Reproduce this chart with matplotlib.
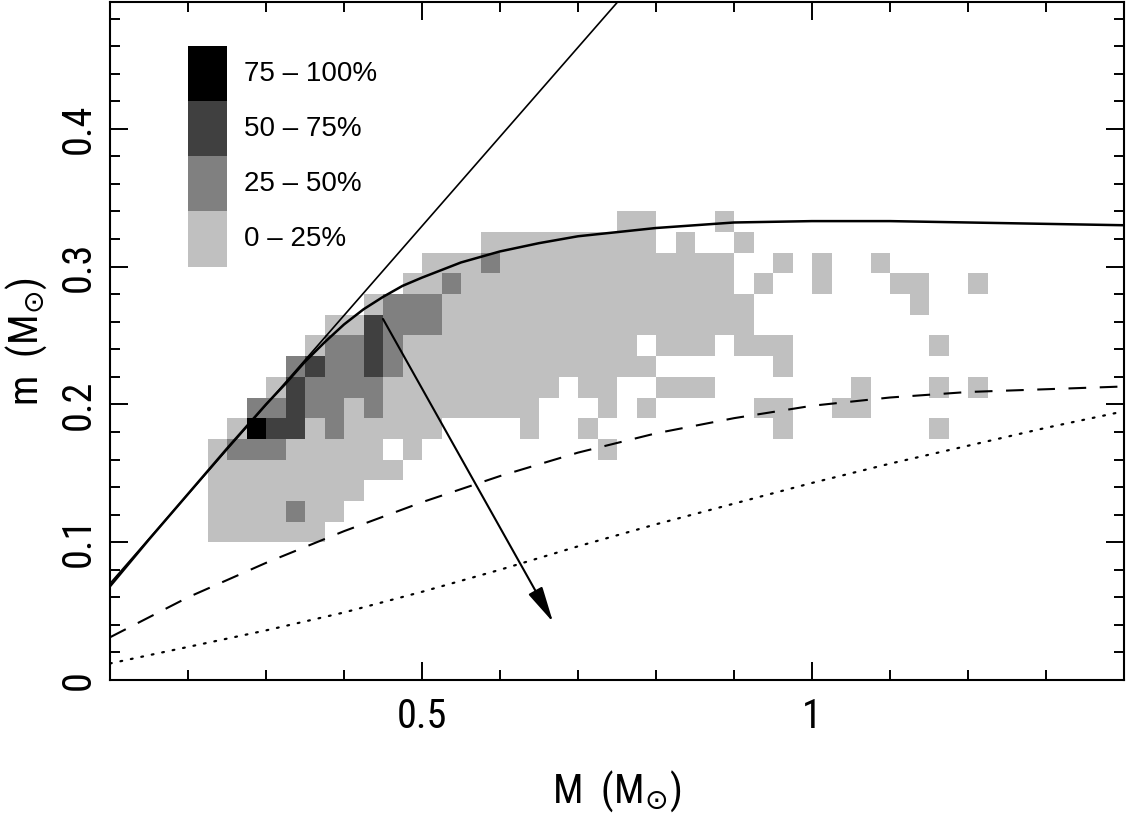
import numpy as np
import matplotlib
matplotlib.use("Agg")
import matplotlib.pyplot as plt
from matplotlib import font_manager
from matplotlib.colors import ListedColormap, BoundaryNorm
from matplotlib.ticker import MultipleLocator, FixedLocator, FixedFormatter
from matplotlib.patches import Rectangle

# ---------------- data ----------------
# occupancy grid: bin edges in M and m
M_edges = np.linspace(0.225, 1.225, 41)
m_edges = np.linspace(0.10, 0.34, 17)
# levels: 0 empty, 1: 0-25%, 2: 25-50%, 3: 50-75%, 4: 75-100%  (top row first)
grid_rows = [
    "0000000000" "0000000000" "0110001000" "0000000000",  # 0.325-0.340
    "0000000000" "0000111111" "1110100100" "0000000000",
    "0000000000" "0111211111" "1111111001" "0100100000",
    "0000000000" "1121111111" "1111111010" "0100011001",
    "0000000012" "2211111111" "1111111100" "0000001000",
    "0000001132" "2211111111" "1111111100" "0000000000",
    "0000012232" "1111111111" "1101110111" "0000000100",
    "0000232232" "1111111111" "1110000001" "0000000000",
    "0001322221" "1111111101" "1001110000" "0001000101",
    "0022322121" "1111111000" "1010000011" "0011000000",
    "0143312111" "1100001001" "0000000001" "0000000100",
    "1222111110" "1000000000" "1000000000" "0000000000",
    "1111111111" "0000000000" "0000000000" "0000000000",
    "1111111100" "0000000000" "0000000000" "0000000000",
    "1111211000" "0000000000" "0000000000" "0000000000",
    "1111110000" "0000000000" "0000000000" "0000000000",  # 0.100-0.115
]
level_colors = ["#c0c0c0", "#808080", "#404040", "#000000"]
legend_labels = ["75 \u2013 100%", "50 \u2013 75%", "25 \u2013 50%", "0 \u2013 25%"]

# straight solid line
line_M = [0.10, 0.76]
line_m = [0.070, 0.498]
# curved solid line
curve_M = [0.10, 0.15, 0.20, 0.25, 0.30, 0.325, 0.35, 0.375, 0.40, 0.425, 0.45, 0.475,
           0.50, 0.55, 0.60, 0.65, 0.70, 0.80, 0.90, 1.00, 1.10, 1.20, 1.30, 1.40]
curve_m = [0.068, 0.102, 0.135, 0.168, 0.200, 0.215, 0.231, 0.245, 0.258, 0.269, 0.278, 0.286,
           0.292, 0.303, 0.311, 0.317, 0.322, 0.328, 0.332, 0.333, 0.333, 0.332, 0.331, 0.330]
# dashed line
dash_M = [0.10, 0.20, 0.30, 0.40, 0.50, 0.60, 0.70, 0.80, 0.90, 1.00, 1.10, 1.20, 1.30, 1.40]
dash_m = [0.031, 0.060, 0.085, 0.108, 0.129, 0.148, 0.165, 0.179, 0.190, 0.199, 0.205, 0.209,
          0.211, 0.213]
# dotted line
dot_M = [0.10, 0.20, 0.30, 0.40, 0.50, 0.60, 0.70, 0.80, 0.90, 1.00, 1.10, 1.20, 1.30, 1.40]
dot_m = [0.012, 0.024, 0.036, 0.049, 0.064, 0.080, 0.097, 0.113, 0.128, 0.143, 0.157,
         0.170, 0.183, 0.195]
# arrow
arrow_start = (0.45, 0.262)
arrow_end = (0.668, 0.042)

xtick_vals = [0.5, 1.0]
xtick_labels = ["0.5", "1"]
ytick_vals = [0.0, 0.1, 0.2, 0.3, 0.4]
ytick_labels = ["0", "0.1", "0.2", "0.3", "0.4"]

# ---------------- style ----------------
ttf = font_manager.fontManager.ttflist
avail = {f.name for f in ttf}
has_dv_cond = any(f.name == "DejaVu Sans" and f.stretch == "condensed" for f in ttf)
if "Liberation Sans Narrow" in avail:
    tick_font, tick_stretch = "Liberation Sans Narrow", "normal"
elif "Roboto Condensed" in avail:
    tick_font, tick_stretch = "Roboto Condensed", "normal"
elif has_dv_cond:
    tick_font, tick_stretch = "DejaVu Sans", "condensed"
else:
    tick_font, tick_stretch = "Liberation Sans", "normal"
legend_font = "Liberation Sans" if "Liberation Sans" in avail else "DejaVu Sans"
plt.rcParams["font.family"] = [tick_font, "DejaVu Sans"]
plt.rcParams["font.stretch"] = tick_stretch
plt.rcParams["mathtext.fontset"] = "dejavusans"

fig = plt.figure(figsize=(11.26, 8.14), dpi=100)
ax = fig.add_axes([110 / 1126, 1 - 680 / 814, 1014 / 1126, 678 / 814])

grid = np.array([[int(c) for c in r] for r in grid_rows])[::-1]
grid_masked = np.ma.masked_equal(grid, 0)
cmap = ListedColormap(level_colors)
norm = BoundaryNorm([0.5, 1.5, 2.5, 3.5, 4.5], cmap.N)
ax.pcolormesh(M_edges, m_edges, grid_masked, cmap=cmap, norm=norm,
              edgecolors="none", antialiased=False, zorder=1)

ax.plot(line_M, line_m, color="k", lw=1.2, zorder=3)
ax.plot(curve_M, curve_m, color="k", lw=1.8, zorder=3)
ax.plot(dash_M, dash_m, color="k", lw=1.5, dashes=(8.5, 6.5), zorder=3)
ax.plot(dot_M, dot_m, color="k", lw=1.6, linestyle=(0, (0.8, 4.0)),
        dash_capstyle="round", zorder=3)
ax.annotate("", xy=arrow_end, xytext=arrow_start,
            arrowprops=dict(arrowstyle="-|>,head_length=1.0,head_width=0.22",
                            color="k", lw=1.5, mutation_scale=22, shrinkA=0, shrinkB=0),
            zorder=4)

# legend (drawn inside the axes)
for i, (lab, col) in enumerate(zip(legend_labels, level_colors[::-1])):
    y0 = 0.42 - 0.04 * i
    ax.add_patch(Rectangle((0.20, y0), 0.05, 0.04, facecolor=col, edgecolor="none", zorder=2))
    ax.text(0.272, y0 + 0.02, lab, ha="left", va="center", fontsize=20,
            family=[legend_font, "DejaVu Sans"], fontstretch="normal", zorder=5)

ax.set_xlim(0.1, 1.4)
ax.set_ylim(0.0, 0.492)

ax.xaxis.set_major_locator(FixedLocator(xtick_vals))
ax.xaxis.set_major_formatter(FixedFormatter(xtick_labels))
ax.xaxis.set_minor_locator(MultipleLocator(0.1))
ax.yaxis.set_major_locator(FixedLocator(ytick_vals))
ax.yaxis.set_major_formatter(FixedFormatter(ytick_labels))
ax.yaxis.set_minor_locator(MultipleLocator(0.02))

ax.tick_params(which="both", direction="in", top=True, right=True, width=1.4)
ax.tick_params(which="major", length=13, labelsize=29)
ax.tick_params(which="minor", length=7)
ax.tick_params(axis="x", which="major", pad=12)
ax.tick_params(axis="y", which="major", pad=9)
for lbl in ax.get_yticklabels():
    lbl.set_rotation(90)
    lbl.set_va("center")
for s in ax.spines.values():
    s.set_linewidth(1.5)

ax.set_xlabel(r"M  (M$_{\odot}$)", fontsize=29)
ax.set_ylabel(r"m  (M$_{\odot}$)", fontsize=29)
ax.xaxis.set_label_coords(0.5, -0.13)
ax.yaxis.set_label_coords(-0.06, 0.5)

fig.savefig("out.png", dpi=100)
